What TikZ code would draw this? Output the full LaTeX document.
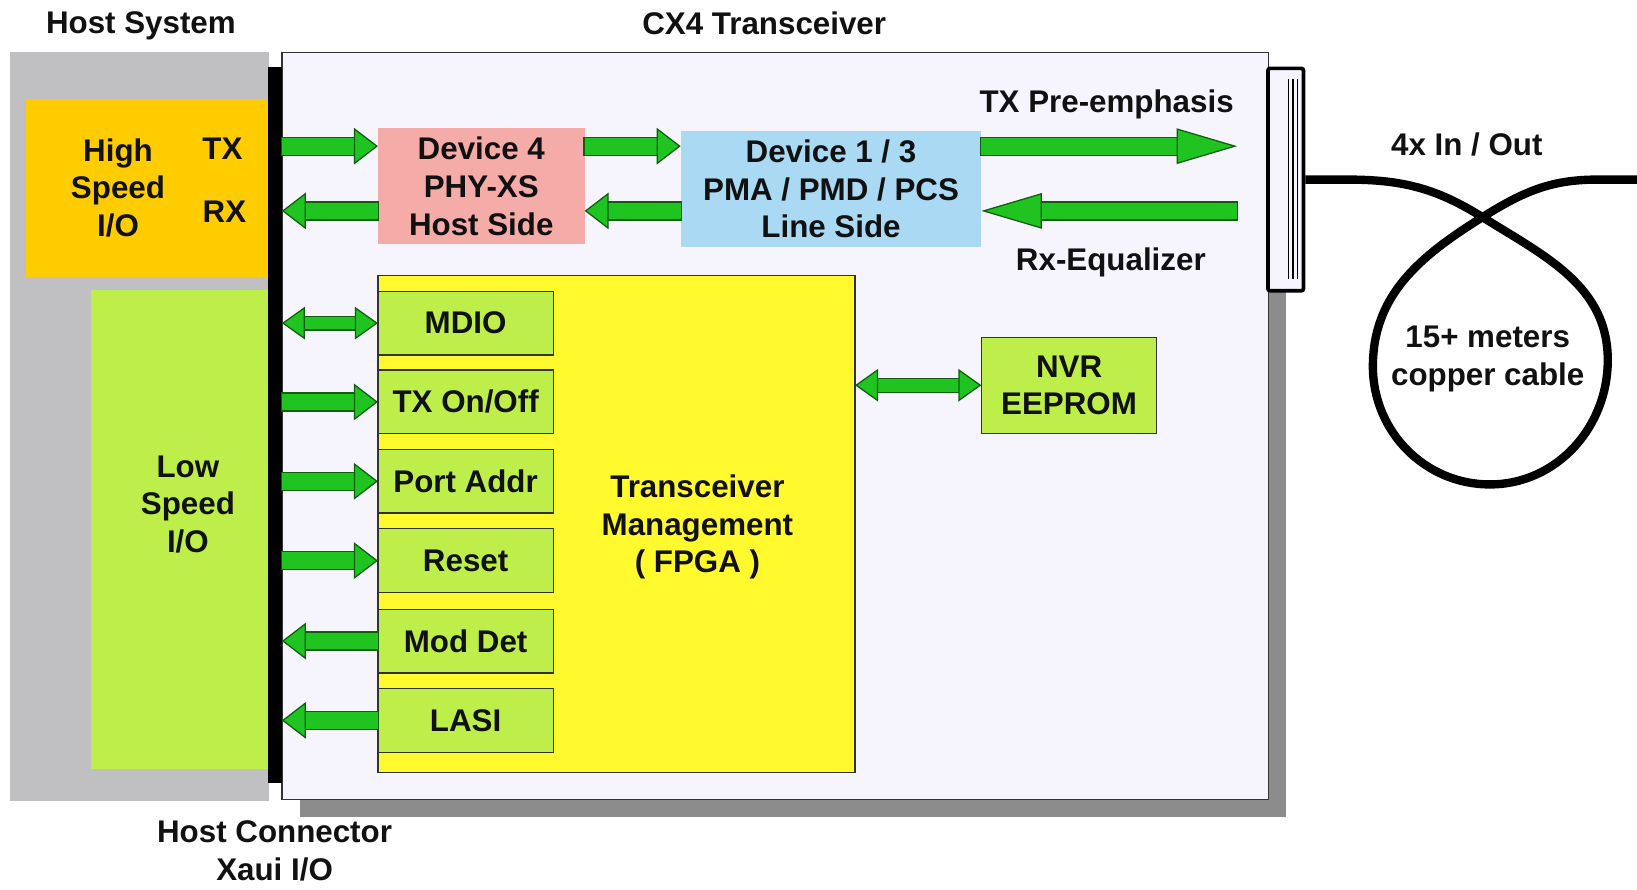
\documentclass[tikz,border=0pt]{standalone}
\usepackage{fontspec}
\setmainfont{Liberation Sans}
\usetikzlibrary{arrows.meta}
\definecolor{hostgray}{HTML}{C0C0C2}
\definecolor{shadowgray}{HTML}{8C8C8C}
\definecolor{transfill}{HTML}{F6F4FD}
\definecolor{hsorange}{HTML}{FFCC00}
\definecolor{lsgreen}{HTML}{BDEE4A}
\definecolor{devpink}{HTML}{F5ABA8}
\definecolor{devblue}{HTML}{A9D9F3}
\definecolor{fpgayellow}{HTML}{FFF92E}
\definecolor{agreen}{HTML}{20C420}
\definecolor{adark}{HTML}{0E5E0E}
\definecolor{edgecol}{HTML}{333333}
\definecolor{txtcol}{HTML}{111111}
\newcommand\lblfont{\fontsize{30pt}{36pt}\selectfont\bfseries}
\tikzset{
  lbl/.style={font=\lblfont, align=center, inner sep=0pt, text=txtcol},
  plainbox/.style={inner sep=0pt, outer sep=0pt},
  box/.style={draw=edgecol, line width=1.3pt, inner sep=0pt, outer sep=0pt, font=\lblfont, align=center, text=txtcol},
  smallbox/.style={box, fill=lsgreen, minimum width=168pt, minimum height=61pt},
  fat/.style={draw=agreen, line width=16pt,
    -{Triangle[length=23pt 0,width=35pt 0,line width=1.2pt 0,fill=agreen,color=adark]},
    preaction={draw=adark, line width=18.4pt, arrows=-, shorten >=21pt, shorten <=-1.2pt}},
  fatlong/.style={draw=agreen, line width=16pt,
    -{Triangle[length=58pt 0,width=34pt 0,line width=1.2pt 0,fill=agreen,color=adark]},
    preaction={draw=adark, line width=18.4pt, arrows=-, shorten >=50pt, shorten <=-1.2pt}},
  dbl/.style={draw=agreen, line width=12pt,
    {Triangle[length=22pt 0,width=31pt 0,line width=1.2pt 0,fill=agreen,color=adark]}-{Triangle[length=22pt 0,width=31pt 0,line width=1.2pt 0,fill=agreen,color=adark]},
    preaction={draw=adark, line width=14.4pt, arrows=-, shorten >=20pt, shorten <=20pt}},
  cable/.style={draw=black, line width=8pt}
}
\begin{document}
\begin{tikzpicture}[x=1pt,y=1pt]
\path[use as bounding box] (0,0) rectangle (1568,-852);

% host system and transceiver frames
\node[plainbox, fill=hostgray, minimum width=248pt, minimum height=717pt] (host) at (134,-408.5) {};
\node[plainbox, fill=shadowgray, minimum width=945pt, minimum height=716pt] (shadow) at (759.5,-425) {};
\node[plainbox, draw=edgecol, line width=1.2pt, fill=transfill, minimum width=945pt, minimum height=716pt] (trans) at (742.5,-408) {};
\node[plainbox, fill=hsorange, minimum width=233pt, minimum height=170pt] (hs) at (141.5,-180) {};
\node[plainbox, fill=lsgreen, minimum width=171pt, minimum height=459pt] (ls) at (172.5,-507.5) {};
\node[plainbox, fill=black, minimum width=13pt, minimum height=686pt] (bar) at (263.5,-407) {};

% titles
\node[lbl] (hostsys) at (135,-25) {Host System};
\node[lbl] (cx4) at (732,-22) {CX4 Transceiver};
\node[lbl] (hostconn) at (263,-815) {Host Connector\\Xaui I/O};

% host side texts
\node[lbl] (hstext) at (113,-180) {High\\Speed\\I/O};
\node[lbl] (tx) at (213,-142) {TX};
\node[lbl] (rx) at (215,-203) {RX};
\node[lbl] (lstext) at (180,-483) {Low\\Speed\\I/O};

% devices
\node[plainbox, fill=devpink, minimum width=198pt, minimum height=111pt, font=\lblfont, align=center, text=txtcol] (dev4) at (461,-178.5) {Device 4\\PHY-XS\\Host Side};
\node[plainbox, fill=devblue, minimum width=288pt, minimum height=112pt, font=\lblfont, align=center, text=txtcol] (dev13) at (796,-181) {Device 1 / 3\\PMA / PMD / PCS\\Line Side};

\node[lbl] (preemph) at (1060,-100) {TX Pre-emphasis};
\node[lbl] (rxeq) at (1064,-251) {Rx-Equalizer};

% FPGA and small boxes
\node[box, fill=fpgayellow, minimum width=457pt, minimum height=476pt] (fpga) at (590.5,-502) {};
\node[lbl] (fpgatext) at (668,-505) {Transceiver\\Management\\( FPGA )};
\node[smallbox] (mdio) at (446,-309.5) {MDIO};
\node[smallbox] (txoo) at (446,-385) {TX On/Off};
\node[smallbox] (port) at (446,-461) {Port Addr};
\node[smallbox] (reset) at (446,-537) {Reset};
\node[smallbox] (moddet) at (446,-614) {Mod Det};
\node[smallbox] (lasi) at (446,-690) {LASI};

\node[box, fill=lsgreen, minimum width=168pt, minimum height=92pt] (nvr) at (1024,-369) {NVR\\EEPROM};

% connector
\node[draw=black, line width=3.5pt, fill=transfill, rounded corners=2pt, minimum width=34pt, minimum height=213pt, inner sep=0pt] (conn) at (1231.5,-172) {};
\coordinate (ctop) at (1238.5,-76);
\coordinate (cbot) at (1238.5,-267);
\draw[line width=1.3pt] ([xshift=-4.5pt]ctop) -- ([xshift=-4.5pt]cbot);
\draw[line width=1.3pt] (ctop) -- (cbot);
\draw[line width=1.3pt] ([xshift=4.5pt]ctop) -- ([xshift=4.5pt]cbot);

% cable
\node[lbl] (inout) at (1405,-138) {4x In / Out};
\node[lbl] (cabletext) at (1425,-344) {15+ meters\\copper cable};
\coordinate (c1) at (1290,-172);
\coordinate (cross) at (1420,-208);
\coordinate (cright) at (1540,-345);
\coordinate (cbottom) at (1427,-464);
\coordinate (cleft) at (1315,-351);
\coordinate (c2) at (1530,-172);
\coordinate (cend) at (1568,-172);
\draw[cable] (conn.east) -- (c1) to[out=0,in=148] (cross) to[out=-32,in=90] (cright)
  to[out=-90,in=0] (cbottom) to[out=180,in=-90] (cleft) to[out=90,in=-148] (cross)
  to[out=32,in=180] (c2) -- (cend);

% high speed arrows
\coordinate (yTX) at (0,-140);
\coordinate (yRX) at (0,-202);
\coordinate (lineend) at (1185,-171);
\draw[fat] (bar.east |- yTX) -- (dev4.west |- yTX);
\draw[fat] (dev4.west |- yRX) -- (bar.east |- yRX);
\draw[fat] (dev4.east |- yTX) -- (dev13.west |- yTX);
\draw[fat] (dev13.west |- yRX) -- (dev4.east |- yRX);
\draw[fatlong] (dev13.east |- yTX) -- (lineend |- yTX);
\draw[fatlong] (lineend |- yRX) -- (dev13.east |- yRX);

% low speed arrows
\draw[dbl] (bar.east |- mdio) -- (mdio.west);
\draw[fat] (bar.east |- txoo) -- (txoo.west);
\draw[fat] (bar.east |- port) -- (port.west);
\draw[fat] (bar.east |- reset) -- (reset.west);
\draw[fat] (moddet.west) -- (bar.east |- moddet);
\draw[fat] (lasi.west) -- (bar.east |- lasi);
\draw[dbl] (fpga.east |- nvr) -- (nvr.west);
\end{tikzpicture}
\end{document}
